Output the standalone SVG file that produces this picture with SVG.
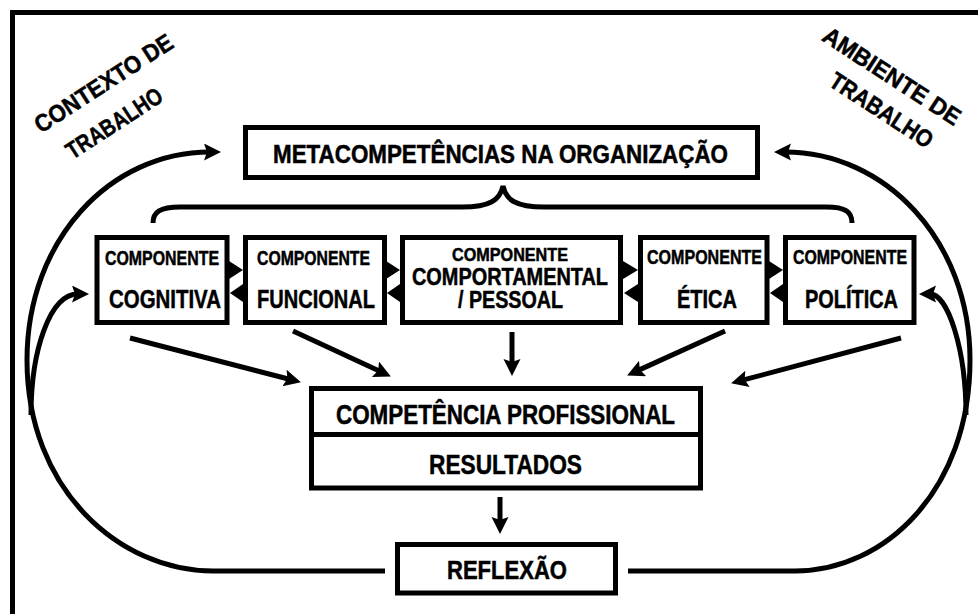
<svg xmlns="http://www.w3.org/2000/svg" width="978" height="614" viewBox="0 0 978 614">
<style>
  .box { fill: #ffffff; stroke: #000000; stroke-width: 5; }
  .t { font-family: "Liberation Sans", Arial, sans-serif; font-weight: bold; fill: #000000; stroke: #000000; stroke-width: 0.5; text-anchor: middle; }
  .ln { fill: none; stroke: #000000; stroke-width: 5; }
  .hd { fill: #000000; stroke: none; }
</style>
<defs>
  <marker id="ah" markerUnits="userSpaceOnUse" markerWidth="19" markerHeight="19" refX="6" refY="8.5" orient="auto">
    <path d="M0,0 L17,8.5 L0,17 L3,8.5 z" fill="#000000"/>
  </marker>
</defs>
<rect x="0" y="0" width="978" height="614" fill="#ffffff"/>
<rect x="12.5" y="12.5" width="990" height="640" fill="none" stroke="#000000" stroke-width="5"/>

<g id="labels">
  <text class="t" font-size="24" textLength="160" lengthAdjust="spacingAndGlyphs" x="0" y="8.5" transform="translate(103.5,83) rotate(-33)">CONTEXTO DE</text>
  <text class="t" font-size="24" textLength="110" lengthAdjust="spacingAndGlyphs" x="0" y="8.5" transform="translate(114,123) rotate(-33)">TRABALHO</text>
  <text class="t" font-size="24" textLength="159" lengthAdjust="spacingAndGlyphs" x="0" y="8.5" transform="translate(892,76) rotate(33)">AMBIENTE DE</text>
  <text class="t" font-size="24" textLength="118" lengthAdjust="spacingAndGlyphs" x="0" y="8.5" transform="translate(881.5,110) rotate(33)">TRABALHO</text>
</g>

<g id="connectors">
  <!-- brace -->
  <path class="ln" d="M153,223 C153,212 160,207 180,207 L462,207 C490,207 500,200 503,186 C506,200 516,207 544,207 L826,207 C846,207 852,212 852,223"/>
  <!-- left feedback loop -->
  <path class="ln" d="M385,571 H213 C120,571 27,490 27,360 C27,240 110,152 210,152" marker-end="url(#ah)"/>
  <path class="ln" d="M31,415 C31,350 50,294 78,294" marker-end="url(#ah)"/>
  <!-- right feedback loop -->
  <path class="ln" d="M628,571 H795 C885,571 970,490 970,360 C970,240 885,152 785,152" marker-end="url(#ah)"/>
  <path class="ln" d="M966,415 C966,350 948,294 930,294" marker-end="url(#ah)"/>
  <!-- component to competence -->
  <line class="ln" x1="130" y1="338" x2="290.3" y2="379.5" marker-end="url(#ah)"/>
  <line class="ln" x1="293" y1="331" x2="380.9" y2="371.8" marker-end="url(#ah)"/>
  <line class="ln" x1="512" y1="332" x2="512" y2="365" marker-end="url(#ah)"/>
  <line class="ln" x1="725" y1="331" x2="637.1" y2="370.9" marker-end="url(#ah)"/>
  <line class="ln" x1="901" y1="338" x2="741.7" y2="380.4" marker-end="url(#ah)"/>
  <line class="ln" x1="500" y1="497" x2="500" y2="523" marker-end="url(#ah)"/>
  <!-- small arrows between components -->
  <polygon class="hd" points="229,261 243,270 229,279"/>
  <polygon class="hd" points="243,284 230,293 243,302"/>
  <polygon class="hd" points="386,261 400,270 386,279"/>
  <polygon class="hd" points="400,284 387,293 400,302"/>
  <polygon class="hd" points="623,261 638,270 623,279"/>
  <polygon class="hd" points="638,284 624,293 638,302"/>
  <polygon class="hd" points="769,261 783,270 769,279"/>
  <polygon class="hd" points="783,284 770,293 783,302"/>
</g>

<g id="meta">
  <rect class="box" x="245.5" y="127.5" width="512" height="50"/>
  <text class="t" x="500.5" y="163" font-size="25" textLength="455" lengthAdjust="spacingAndGlyphs">METACOMPETÊNCIAS NA ORGANIZAÇÃO</text>
</g>

<g id="cognitiva">
  <rect class="box" x="97" y="237.5" width="130" height="85"/>
  <text class="t" x="162" y="264.5" font-size="20" textLength="114" lengthAdjust="spacingAndGlyphs">COMPONENTE</text>
  <text class="t" x="165" y="308" font-size="26" textLength="112" lengthAdjust="spacingAndGlyphs">COGNITIVA</text>
</g>

<g id="funcional">
  <rect class="box" x="245.5" y="237.5" width="139" height="85"/>
  <text class="t" x="313.5" y="264.5" font-size="20" textLength="113" lengthAdjust="spacingAndGlyphs">COMPONENTE</text>
  <text class="t" x="316" y="308" font-size="26" textLength="118" lengthAdjust="spacingAndGlyphs">FUNCIONAL</text>
</g>

<g id="comportamental">
  <rect class="box" x="402.5" y="237.5" width="218" height="85"/>
  <text class="t" x="510" y="261" font-size="18" textLength="116" lengthAdjust="spacingAndGlyphs">COMPONENTE</text>
  <text class="t" x="510" y="285" font-size="24" textLength="196" lengthAdjust="spacingAndGlyphs">COMPORTAMENTAL</text>
  <text class="t" x="510.5" y="308" font-size="24" textLength="105" lengthAdjust="spacingAndGlyphs">/ PESSOAL</text>
</g>

<g id="etica">
  <rect class="box" x="640.5" y="237.5" width="126.5" height="85"/>
  <text class="t" x="704.5" y="264" font-size="20" textLength="115" lengthAdjust="spacingAndGlyphs">COMPONENTE</text>
  <text class="t" x="707" y="308" font-size="26" textLength="60" lengthAdjust="spacingAndGlyphs">ÉTICA</text>
</g>

<g id="politica">
  <rect class="box" x="785.5" y="237.5" width="128.5" height="85"/>
  <text class="t" x="850" y="264" font-size="20" textLength="114" lengthAdjust="spacingAndGlyphs">COMPONENTE</text>
  <text class="t" x="851.5" y="308" font-size="26" textLength="93" lengthAdjust="spacingAndGlyphs">POLÍTICA</text>
</g>

<g id="competencia">
  <rect class="box" x="311.5" y="388.5" width="389" height="99.5"/>
  <line x1="311.5" y1="434.5" x2="700.5" y2="434.5" stroke="#000000" stroke-width="5"/>
  <text class="t" x="505.5" y="424" font-size="27" textLength="339" lengthAdjust="spacingAndGlyphs">COMPETÊNCIA PROFISSIONAL</text>
  <text class="t" x="505.5" y="474" font-size="27" textLength="153" lengthAdjust="spacingAndGlyphs">RESULTADOS</text>
</g>

<g id="reflexao">
  <rect class="box" x="397.5" y="544.5" width="218" height="48.5"/>
  <text class="t" x="507" y="579" font-size="26" textLength="120" lengthAdjust="spacingAndGlyphs">REFLEXÃO</text>
</g>
</svg>
